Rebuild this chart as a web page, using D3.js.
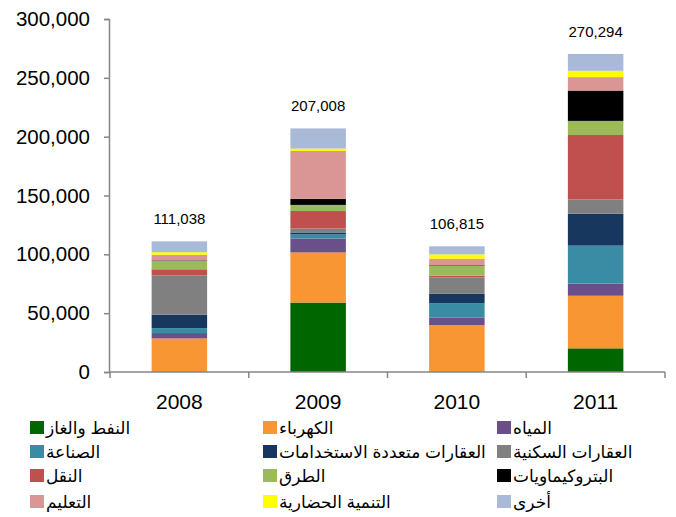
<!DOCTYPE html>
<html>
<head>
<meta charset="utf-8">
<script src="https://cdn.jsdelivr.net/npm/d3@7"></script>
<style>
	body { margin: 0; background: #fff; }
	text { font-family: "Liberation Sans", Arial, "DejaVu Sans", sans-serif; fill: #000; }
</style>
</head>
<body>
<div id="chart"></div>
<script>
// years on the x axis
var years = ["2008", "2009", "2010", "2011"];
// total printed above each bar
var totals = [111038, 207008, 106815, 270294];
// sector names, bottom of the stack first
var sectors = ["النفط والغاز", "الكهرباء", "المياه", "الصناعة", "العقارات متعددة الاستخدامات", "العقارات السكنية",
	"النقل", "الطرق", "البتروكيماويات", "التعليم", "التنمية الحضارية", "أخرى"];
var sectorColors = ["#006600", "#F79633", "#6A4F8A", "#3A8CA5", "#17375E", "#808080",
	"#C0504D", "#9BBB59", "#000000", "#D99694", "#FFFF00", "#A9B9D8"];
// values per sector, one per year
var oilGas      = [0, 59000, 0, 20100];
var electricity = [28500, 42600, 39900, 44700];
var water       = [4600, 11900, 6500, 10300];
var industry    = [4200, 3400, 12100, 32300];
var multiUse    = [11300, 1700, 7900, 27200];
var residential = [33500, 3400, 14000, 12000];
var transport   = [5200, 14800, 1400, 54800];
var roads       = [7000, 5200, 8400, 12000];
var petrochem   = [500, 5200, 500, 25800];
var education   = [4800, 40700, 5600, 11400];
var urbanDev    = [2200, 2000, 3700, 5400];
var other       = [9238, 17108, 6815, 14294];
var yTicks = [0, 50000, 100000, 150000, 200000, 250000, 300000];

var series = [oilGas, electricity, water, industry, multiUse, residential,
	transport, roads, petrochem, education, urbanDev, other];

var svgWidth = 676;
var svgHeight = 517;
var axisColor = "#868686";

// one row per year for d3.stack
var rows = years.map(function(y, i){
	var row = {year: y, total: totals[i]};
	sectors.forEach(function(s, j){ row[s] = series[j][i]; });
	return row;
});

var stack = d3.stack().keys(sectors);
var layers = stack(rows);

var x = d3.scaleBand()
	.domain(years)
	.range([110, 665]);

var y = d3.scaleLinear()
	.domain([0, 300000])
	.range([372, 19]);

var color = d3.scaleOrdinal()
	.domain(sectors)
	.range(sectorColors);

var svg = d3.select("#chart")
	.append("svg")
	.attr("width", svgWidth)
	.attr("height", svgHeight);

var barWidth = x.bandwidth() * 0.4;

svg.selectAll(".layer")
	.data(layers)
	.enter()
	.append("g")
	.attr("class", "layer")
	.attr("fill", (d) => color(d.key))
	.selectAll("rect")
	.data((d) => d)
	.enter()
	.append("rect")
	.attr("x", (d) => x(d.data.year) + (x.bandwidth() - barWidth) / 2)
	.attr("y", (d) => y(d[1]))
	.attr("width", barWidth)
	.attr("height", (d) => y(d[0]) - y(d[1]));

// totals above bars
svg.selectAll(".total")
	.data(rows)
	.enter()
	.append("text")
	.attr("class", "total")
	.attr("x", (d) => x(d.year) + x.bandwidth() / 2)
	.attr("y", function(d){
		return y(d3.sum(sectors, (s) => d[s])) - 17;
	})
	.attr("text-anchor", "middle")
	.style("font-size", "15px")
	.text((d) => d3.format(",")(d.total));

// y axis
var yAxis = svg.append("g")
	.attr("transform", "translate(109,0)")
	.call(d3.axisLeft(y).tickValues(yTicks).tickSize(5).tickPadding(14).tickFormat(d3.format(",")));
yAxis.select(".domain").attr("stroke", axisColor).attr("stroke-width", 1.5);
yAxis.selectAll(".tick line").attr("stroke", axisColor).attr("stroke-width", 1.5);
yAxis.selectAll(".tick text").style("font-size", "20.5px").attr("fill", "#000");

// x axis: line with ticks between the categories
svg.append("line")
	.attr("x1", 109).attr("x2", 665)
	.attr("y1", y(0)).attr("y2", y(0))
	.attr("stroke", axisColor)
	.attr("stroke-width", 1.5);

var boundaries = years.map((d) => x(d)).concat([x(years[years.length - 1]) + x.bandwidth()]);
svg.selectAll(".xtick")
	.data(boundaries)
	.enter()
	.append("line")
	.attr("class", "xtick")
	.attr("x1", (d) => d).attr("x2", (d) => d)
	.attr("y1", y(0)).attr("y2", y(0) + 6)
	.attr("stroke", axisColor)
	.attr("stroke-width", 1.5);

svg.selectAll(".xlabel")
	.data(years)
	.enter()
	.append("text")
	.attr("class", "xlabel")
	.attr("x", (d) => x(d) + x.bandwidth() / 2)
	.attr("y", 409)
	.attr("text-anchor", "middle")
	.style("font-size", "21px")
	.text((d) => d);

// legend, 3 columns
var colX = [30, 263, 497];
var rowY = [421, 445, 469, 495];

var legend = svg.selectAll(".legend")
	.data(sectors)
	.enter()
	.append("g")
	.attr("class", "legend")
	.attr("transform", function(d, i){
		var translate = [colX[i % 3], rowY[Math.floor(i / 3)]];
		return "translate(" + translate + ")";
	});

legend.append("rect")
	.attr("width", 14)
	.attr("height", 13)
	.style("fill", color);

legend.append("text")
	.attr("x", 16)
	.attr("y", 13)
	.style("font-size", "17px")
	.text((d) => d);
</script>
</body>
</html>
